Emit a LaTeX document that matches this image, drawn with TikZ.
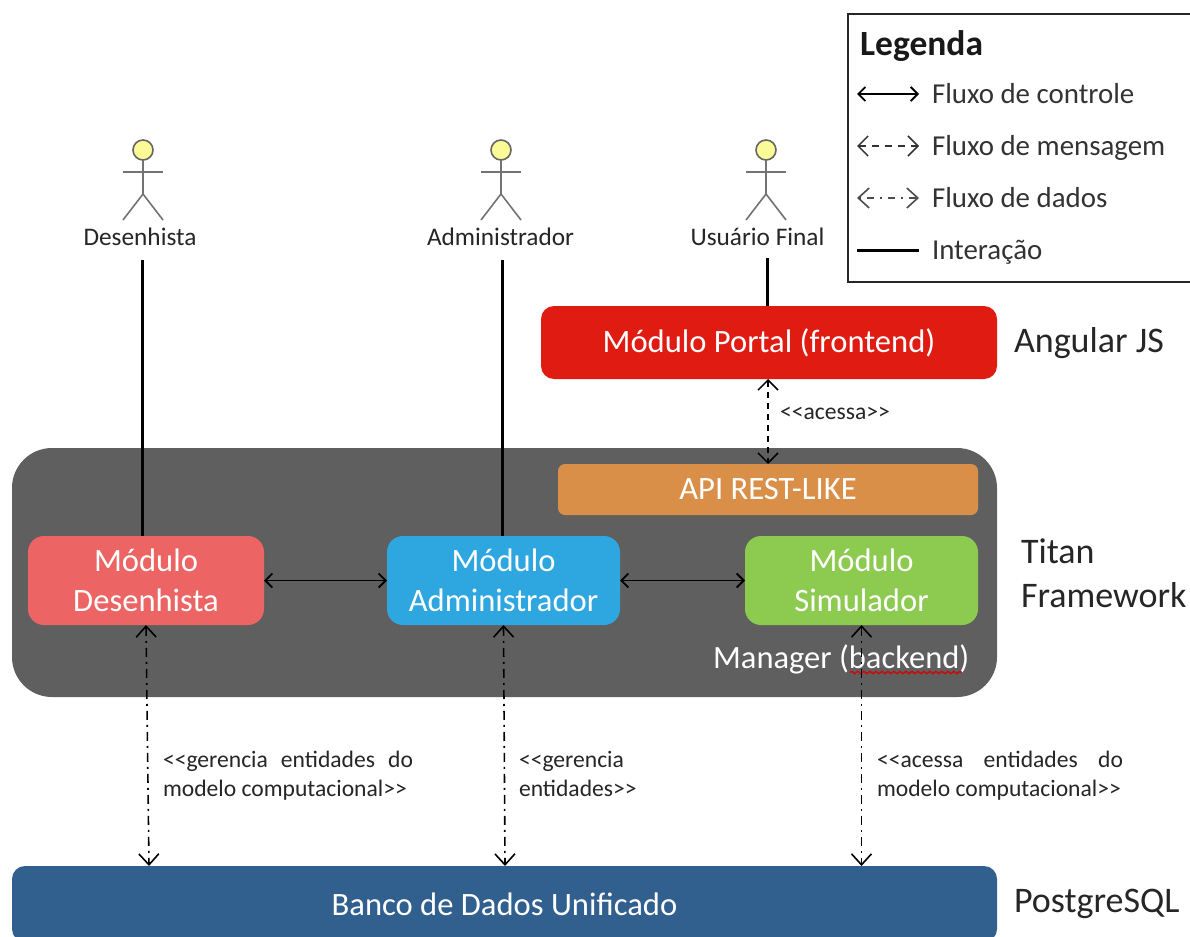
\documentclass[tikz,border=0pt]{standalone}
\usepackage{fontspec}
\setmainfont{Carlito}
\usetikzlibrary{arrows.meta,decorations.pathmorphing,calc}
\tikzset{
  x=1pt,y=-1pt,
  box/.style={rounded corners=#1,inner sep=0pt,outer sep=0pt,align=center,text=white,font=\fontsize{32.6}{40}\selectfont},
  box/.default=13pt,
  lbl/.style={inner sep=0pt,outer sep=0pt,anchor=west,text=black!85,font=\fontsize{36}{44}\selectfont,align=left},
  actorlbl/.style={inner sep=0pt,outer sep=0pt,text=black!85,font=\fontsize{25.3}{28}\selectfont},
  msg/.style={inner sep=0pt,outer sep=0pt,anchor=north west,text=black!85,font=\fontsize{23.6}{28.5}\selectfont,align=left},
  leg/.style={inner sep=0pt,outer sep=0pt,anchor=base west,text=black!80,font=\fontsize{28.9}{32}\selectfont},
  head/.style={circle,draw=black!60,fill={rgb,255:red,250;green,250;blue,150},line width=1.6pt,minimum size=20pt,inner sep=0pt,outer sep=0pt},
  limb/.style={draw=black!55,line width=1.6pt},
  inter/.style={line width=3pt,black},
  ctrl/.style={line width=1.8pt,black,{Straight Barb[length=7pt,width=14pt]}-{Straight Barb[length=7pt,width=14pt]}},
  mesg/.style={line width=1.5pt,black,dash pattern=on 6pt off 5pt,{Straight Barb[length=10pt,width=20pt]}-{Straight Barb[length=10pt,width=20pt]}},
  data/.style={line width=1.6pt,black,dash pattern=on 9pt off 5pt on 2pt off 5pt,{Straight Barb[length=11pt,width=20pt]}-{Straight Barb[length=11pt,width=20pt]}},
}
\begin{document}
\begin{tikzpicture}
\useasboundingbox (0,0) rectangle (1190,936);
\fill[white] (0,0) rectangle (1190,936);
% legend
\node[draw=black!85,line width=2pt,fill=white,minimum width=360pt,minimum height=268pt,inner sep=0pt,outer sep=0pt,anchor=north west] (legend) at (848,14) {};
\node[inner sep=0pt,anchor=west,font=\fontsize{35.5}{38}\selectfont\bfseries,text=black!90] (legtitle) at (860,46) {Legenda};
\foreach \n/\y/\t in {a/94/Fluxo de controle,b/146/Fluxo de mensagem,c/198/Fluxo de dados,d/250/Interação}{
  \node[leg] (leg\n) at (932,\y+9.5) {\t};
  \coordinate (ls\n) at (857,\y);
  \coordinate (le\n) at (919,\y);
}
\draw[ctrl] (lsa) -- (lea);
\draw[mesg,black!80,dash pattern=on 7pt off 6pt] (lsb) -- (leb);
\draw[data,black!70,dash pattern=on 2pt off 6pt on 7pt off 6pt] (lsc) -- (lec);
\draw[inter] (lsd) -- (led);
% actors
\foreach \n/\x/\lx/\t in {des/143/140/Desenhista,adm/501/500.5/Administrador,usu/766/757.5/Usuário Final}{
  \node[head] (head\n) at (\x,150) {};
  \coordinate (hip\n) at (\x,194);
  \draw[limb] (head\n.south) -- (hip\n);
  \draw[limb] (\x-20,172) -- (\x+20,172);
  \draw[limb] (\x-20,220) -- (hip\n) -- (\x+20,220);
  \node[actorlbl] (lab\n) at (\lx,236.5) {\t};
}
% boxes
\node[box,fill={rgb,255:red,224;green,27;blue,18},minimum width=456pt,minimum height=73pt] (portal) at (769,342.5) {Módulo Portal (frontend)};
\node[box=40pt,fill={rgb,255:red,95;green,95;blue,95},minimum width=985pt,minimum height=249pt] (manager) at (504.5,572.5) {};
\node[box=7pt,fill={rgb,255:red,217;green,143;blue,71},minimum width=420pt,minimum height=51pt] (api) at (768,489.5) {API REST-LIKE};
\node[box=16pt,fill={rgb,255:red,236;green,100;blue,100},minimum width=236pt,minimum height=89pt] (desen) at (146,580.5) {Módulo\\Desenhista};
\node[box=16pt,fill={rgb,255:red,46;green,166;blue,224},minimum width=233pt,minimum height=89pt] (admin) at (503.5,580.5) {Módulo\\Administrador};
\node[box=16pt,fill={rgb,255:red,140;green,203;blue,80},minimum width=233pt,minimum height=89pt] (simul) at (861.5,580.5) {Módulo\\Simulador};
\node[box=13pt,fill={rgb,255:red,49;green,96;blue,143},minimum width=985pt,minimum height=76pt] (banco) at (504.5,904) {Banco de Dados Unificado};
% manager text
\node[inner sep=0pt,anchor=west,text=white,font=\fontsize{32.5}{36}\selectfont] (mgr) at (713,659) {Manager (backend)};
\draw[red!85!black,line width=1.3pt,decorate,decoration={snake,amplitude=1.2pt,segment length=6pt}] (850,672.5) -- (962,672.5);
% side labels
\node[lbl] (angular) at (1014,343) {Angular JS};
\node[lbl] (titan) at (1021,573) {Titan\\Framework};
\node[lbl] (pg) at (1014,904) {PostgreSQL};
% connectors
\coordinate (i1) at (142,260);
\coordinate (i2) at (502,260);
\coordinate (i3) at (767,258);
\draw[inter] (i1) -- (i1 |- desen.north);
\draw[inter] (i2) -- (i2 |- admin.north);
\draw[inter] (i3) -- (i3 |- portal.north);
\draw[ctrl] (desen.east) -- (admin.west);
\draw[ctrl] (admin.east) -- (simul.west);
\draw[mesg] (portal.south -| api.north) -- (api.north);
\coordinate (bd) at (149,866);
\coordinate (ba) at (505,866);
\coordinate (bs) at (861.5,866);
\draw[data] (desen.south) -- (bd);
\draw[data] (admin.south) -- (ba);
\draw[data] (simul.south) -- (bs);
% messages
\node[msg] (acessa) at (780,407) {<{}<acessa>{}>};
\node[msg] (m1) at (163,751.5) {\makebox[250pt][s]{<{}<gerencia entidades do}\\modelo computacional>{}>};
\node[msg] (m2) at (519,751.5) {<{}<gerencia\\entidades>{}>};
\node[msg] (m3) at (877,751.5) {\makebox[246pt][s]{<{}<acessa entidades do}\\modelo computacional>{}>};
\end{tikzpicture}
\end{document}
